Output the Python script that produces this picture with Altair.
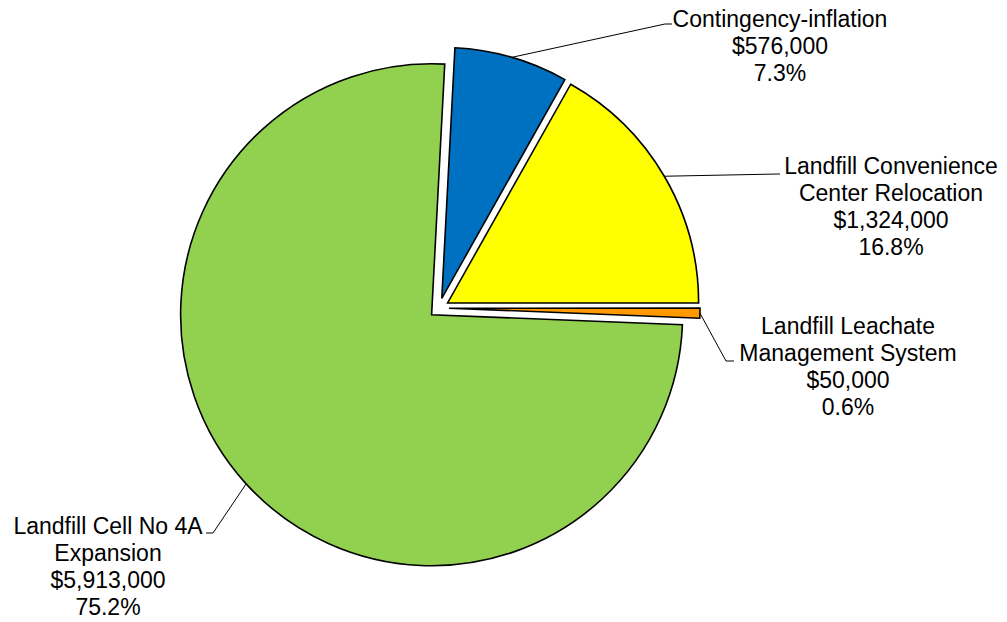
import altair as alt
import pandas as pd

# ---- data ----
categories = [
    "Contingency-inflation",
    "Landfill Convenience Center Relocation",
    "Landfill Leachate Management System",
    "Landfill Cell No 4A Expansion",
]
values = [576000, 1324000, 50000, 5913000]
value_labels = ["$576,000", "$1,324,000", "$50,000", "$5,913,000"]
pct_labels = ["7.3%", "16.8%", "0.6%", "75.2%"]
name_lines = [
    ["Contingency-inflation"],
    ["Landfill Convenience", "Center Relocation"],
    ["Landfill Leachate", "Management System"],
    ["Landfill Cell No 4A", "Expansion"],
]

# ---- style / layout ----
colors = ["#0070C0", "#FFFF00", "#FF9900", "#92D050"]
M = 8  # page margin
CX, CY = 439 - M, 308 - M
R = 251
EXPLODE = 10
START_DEG = 3.0
LINE_H = 27
# label block center x and first-line y (page coords)
label_pos = [(780, 20), (891, 167), (848, 327), (108, 527)]
# leader elbow and end (page coords)
leader_elbow = [(665, 24), (778, 174), (726, 361), (213, 533)]
leader_end = [(672, 24), (780, 174), (734, 361), (206, 533)]

df = pd.DataFrame({
    "cat": categories,
    "value": values,
    "order": list(range(len(categories))),
    "ex": [p[0] - M for p in leader_elbow],
    "ey": [p[1] - M for p in leader_elbow],
    "tx": [p[0] - M for p in leader_end],
    "ty": [p[1] - M for p in leader_end],
})

rows = []
for i, cat in enumerate(categories):
    lines = name_lines[i] + [value_labels[i], pct_labels[i]]
    for j, t in enumerate(lines):
        rows.append({"cat": cat, "text": t,
                     "x": label_pos[i][0] - M,
                     "y": label_pos[i][1] - M + j * LINE_H})
lab = pd.DataFrame(rows)

start = START_DEG * 3.141592653589793 / 180

base = alt.Chart(df).transform_window(
    cum="sum(value)", sort=[alt.SortField("order")], frame=[None, 0]
).transform_joinaggregate(
    total="sum(value)"
).transform_calculate(
    t1=f"{start} + 2*PI*datum.cum/datum.total",
).transform_calculate(
    t0="datum.t1 - 2*PI*datum.value/datum.total",
).transform_calculate(
    mid="(datum.t0 + datum.t1)/2",
).transform_calculate(
    cx=f"{CX} + {EXPLODE}*sin(datum.mid)",
    cy=f"{CY} - {EXPLODE}*cos(datum.mid)",
).transform_calculate(
    lx=f"datum.cx + {R}*sin(datum.mid)",
    ly=f"datum.cy - {R}*cos(datum.mid)",
)

pie = base.mark_arc(radius=R, stroke="black", strokeWidth=1.6).encode(
    theta=alt.Theta("t0:Q", scale=None),
    theta2="t1:Q",
    x=alt.X("cx:Q", scale=None),
    y=alt.Y("cy:Q", scale=None),
    color=alt.Color("cat:N", scale=alt.Scale(domain=categories, range=colors), legend=None),
)

lead1 = base.mark_rule(color="black", strokeWidth=1).encode(
    x=alt.X("lx:Q", scale=None), y=alt.Y("ly:Q", scale=None),
    x2="ex:Q", y2="ey:Q",
)
lead2 = base.mark_rule(color="black", strokeWidth=1).encode(
    x=alt.X("ex:Q", scale=None), y=alt.Y("ey:Q", scale=None),
    x2="tx:Q", y2="ty:Q",
)

text = alt.Chart(lab).mark_text(
    font="Liberation Sans", fontSize=23, color="black", align="center", baseline="middle"
).encode(
    x=alt.X("x:Q", scale=None), y=alt.Y("y:Q", scale=None), text="text:N"
)

chart = alt.layer(pie, lead1, lead2, text).properties(
    width=991, height=606, padding=0
).configure_view(stroke=None)

chart.save("out.html", embed_options={"renderer": "svg", "actions": False})
